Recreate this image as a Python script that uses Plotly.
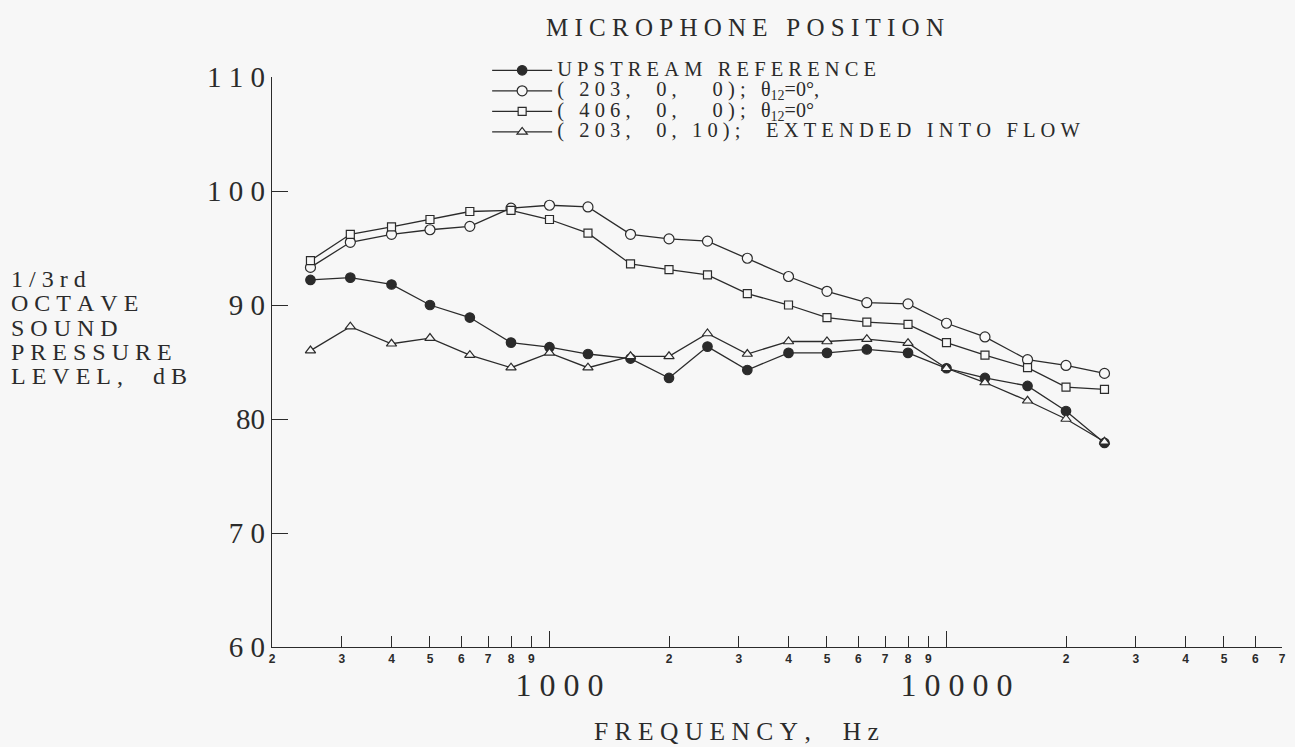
import plotly.graph_objects as go

# ---------------- data ----------------
FREQ = [250, 315, 400, 500, 630, 800, 1000, 1250, 1600, 2000, 2500,
        3150, 4000, 5000, 6300, 8000, 10000, 12500, 16000, 20000, 25000]

UPSTREAM = [92.2, 92.4, 91.8, 90.0, 88.9, 86.7, 86.3, 85.7, 85.3, 83.6, 86.35,
            84.3, 85.8, 85.8, 86.1, 85.8, 84.45, 83.6, 82.9, 80.7, 77.9]
POS_203 = [93.3, 95.5, 96.2, 96.6, 96.9, 98.5, 98.75, 98.6, 96.2, 95.8, 95.6,
           94.1, 92.5, 91.2, 90.2, 90.1, 88.4, 87.2, 85.2, 84.7, 84.0]
POS_406 = [93.9, 96.2, 96.85, 97.5, 98.2, 98.3, 97.5, 96.3, 93.6, 93.1, 92.65,
           91.0, 90.0, 88.9, 88.5, 88.3, 86.7, 85.6, 84.5, 82.8, 82.6]
POS_203_10 = [86.0, 88.1, 86.6, 87.1, 85.6, 84.5, 85.8, 84.5, 85.5, 85.5, 87.5,
              85.7, 86.8, 86.8, 87.0, 86.65, 84.45, 83.2, 81.6, 80.0, 78.0]

Y_TICKS = [60, 70, 80, 90, 100, 110]
Y_TICKTEXT = ["6 0", "7 0", "80", "9 0", "1 0 0", "1 1 0"]
X_MINOR = [200, 300, 400, 500, 600, 700, 800, 900,
           2000, 3000, 4000, 5000, 6000, 7000, 8000, 9000,
           20000, 30000, 40000, 50000, 60000, 70000]
X_MINOR_TEXT = ["2", "3", "4", "5", "6", "7", "8", "9",
                "2", "3", "4", "5", "6", "7", "8", "9",
                "2", "3", "4", "5", "6", "7"]
X_MAJOR = [1000, 10000]
X_MAJOR_TEXT = ["1 0 0 0", "1 0 0 0 0"]

NB = "\u00a0"


def spaced(s):
    return NB.join(NB if c == " " else c for c in s)


FONT = "Liberation Serif"
INK = "#2b2b2b"
BG = "#f7f7f7"

W, H = 1295, 747
L, R, T, B = 272, 9, 77, 100
PW, PH = W - L - R, H - T - B


def px_x(px):
    return (px - L) / PW


def px_y(py):
    return (H - B - py) / PH


def big(s, size=20.5):
    return '<span style="font-size:%spx">%s</span>' % (size, s)


THETA = '<span style="font-size:20px">θ<sub>12</sub>=0°</span>'
fig = go.Figure()

series = [
    (UPSTREAM, big(spaced("UPSTREAM REFERENCE")), "circle", INK, 9.5, "x"),
    (POS_203, big(spaced("( 203,  0,   0);") + NB * 3) + THETA + big(","), "circle", BG, 10, "x"),
    (POS_406, big(spaced("( 406,  0,   0);") + NB * 3) + THETA, "square", BG, 8, "x"),
    (POS_203_10, big(spaced("( 203,  0, 10);  EXTENDED INTO FLOW")), "triangle-up", BG, 9, "x2"),
]
for vals, name, sym, fill, size, xa in series:
    fig.add_trace(go.Scatter(
        x=FREQ, y=vals, name=name, mode="lines+markers", xaxis=xa,
        line=dict(color=INK, width=1.3),
        marker=dict(symbol=sym, size=size, color=fill,
                    line=dict(color=INK, width=1.2)),
    ))

xrange = [2.30103, 4.8451]
fig.update_layout(
    width=W, height=H,
    margin=dict(l=L, r=R, t=T, b=B),
    paper_bgcolor=BG, plot_bgcolor=BG,
    font=dict(family=FONT, color=INK),
    showlegend=True,
    legend=dict(x=px_x(488), y=px_y(55), xanchor="left", yanchor="top",
                bgcolor="rgba(0,0,0,0)", font=dict(size=13.5, family=FONT, color=INK),
                tracegroupgap=0, itemwidth=60),
    title=dict(text=spaced("MICROPHONE POSITION"), x=745 / W, xanchor="center",
               y=1 - 27 / H, yanchor="middle", font=dict(size=25, family=FONT, color=INK)),
    xaxis=dict(type="log", range=xrange, showline=True, linecolor=INK, linewidth=1.2,
               showgrid=False, zeroline=False, ticks="inside", ticklen=11, tickwidth=1,
               tickcolor=INK, tickvals=X_MINOR, ticktext=X_MINOR_TEXT,
               tickfont=dict(size=12, family="Liberation Sans", color=INK, weight="bold")),
    xaxis2=dict(type="log", range=xrange, overlaying="x", matches="x", anchor="y",
                side="bottom", showline=False, showgrid=False, zeroline=False,
                ticks="inside", ticklen=16, tickwidth=1, tickcolor=INK,
                tickvals=X_MAJOR, ticktext=X_MAJOR_TEXT, ticklabelstandoff=16,
                ticklabelshift=10, tickfont=dict(size=32, family=FONT, color=INK)),
    yaxis=dict(range=[60, 110], showline=True, linecolor=INK, linewidth=1.2,
               showgrid=False, zeroline=False, ticks="inside", ticklen=16, tickwidth=1,
               tickcolor=INK, tickvals=Y_TICKS, ticktext=Y_TICKTEXT,
               tickfont=dict(size=29, family=FONT, color=INK)),
)

ylines = ["1/3rd", "OCTAVE", "SOUND", "PRESSURE", "LEVEL,  dB"]
ypos = [279, 303, 328, 352, 376]
for txt, py in zip(ylines, ypos):
    fig.add_annotation(text=spaced(txt), xref="paper", yref="paper",
                       x=px_x(8), y=px_y(py), xanchor="left", yanchor="middle",
                       showarrow=False, font=dict(size=24, family=FONT, color=INK))

fig.add_annotation(text=spaced("FREQUENCY,  Hz"), xref="paper", yref="paper",
                   x=px_x(738), y=px_y(731), xanchor="center", yanchor="middle",
                   showarrow=False, font=dict(size=25.5, family=FONT, color=INK))

fig.write_html("out.html", config={"displayModeBar": False},
               post_script="document.body.style.margin='0';document.body.style.overflow='hidden';")
